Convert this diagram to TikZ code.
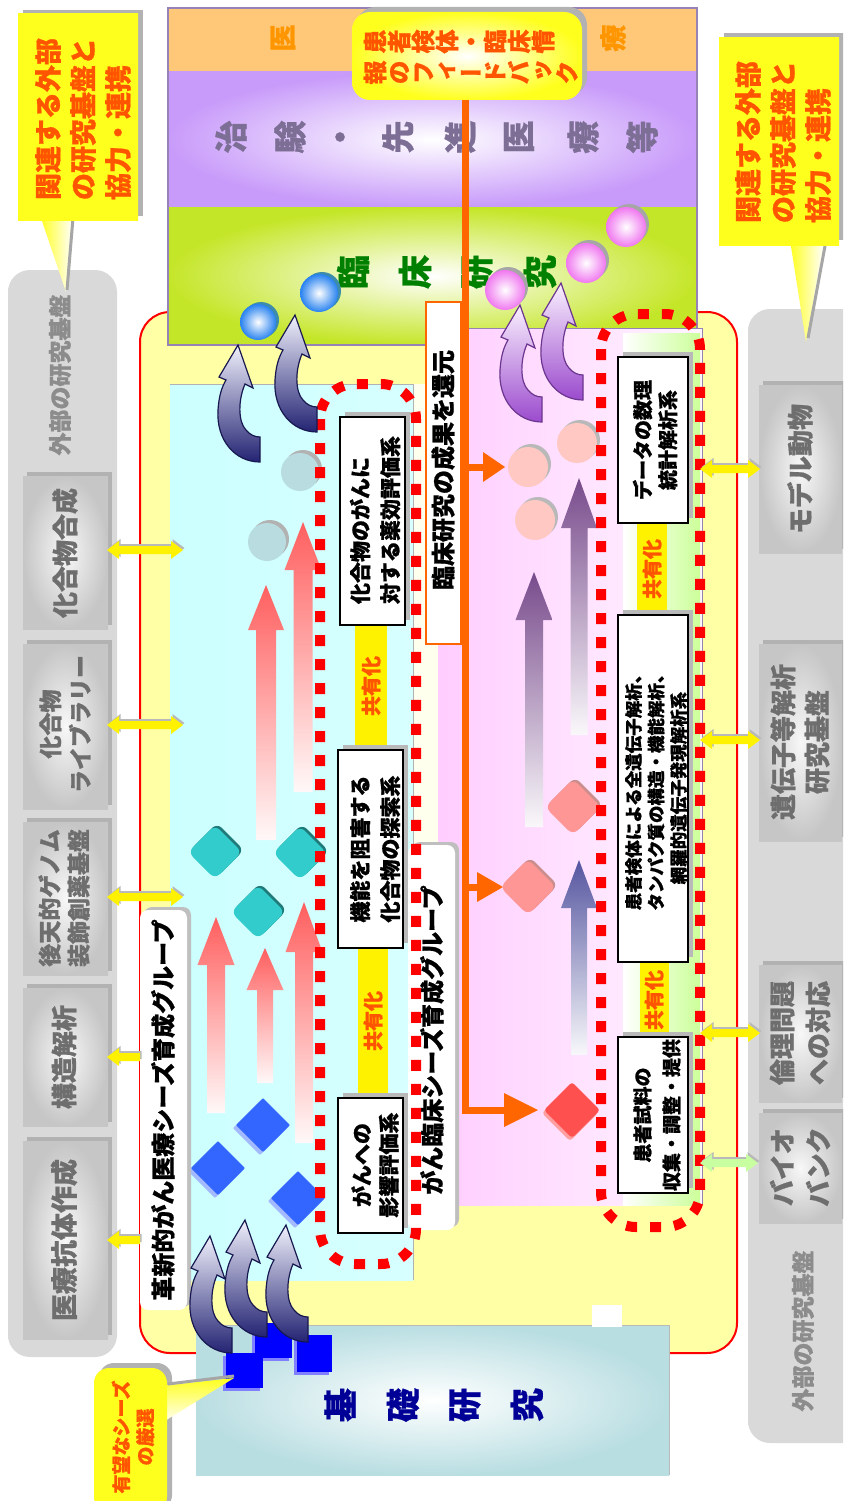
\documentclass[tikz,border=0pt]{standalone}
\usepackage{fontspec}
\setmainfont{Noto Sans CJK JP}[BoldFeatures={FakeBold=0.8}]
\newfontfamily\tatefont{Noto Sans CJK JP}[RawFeature=+vert,BoldFeatures={FakeBold=0.8}]
\definecolor{orred}{RGB}{255,85,0}
\definecolor{orline}{RGB}{255,102,0}
\definecolor{callyel}{RGB}{255,255,30}
\definecolor{mainyel}{RGB}{255,255,165}
\definecolor{gtext}{RGB}{110,110,110}
\definecolor{glab}{RGB}{140,140,140}
\definecolor{bandor}{RGB}{255,200,120}
\definecolor{bandpu}{RGB}{200,155,250}
\definecolor{bandgr}{RGB}{196,230,40}
\definecolor{ptext}{RGB}{125,110,150}
\definecolor{otext}{RGB}{255,150,0}
\definecolor{gtxt}{RGB}{0,128,0}
\definecolor{navytxt}{RGB}{0,0,150}
\definecolor{cyL}{RGB}{204,255,255}
\definecolor{cyM}{RGB}{240,255,255}
\definecolor{cyR}{RGB}{215,255,255}
\definecolor{pkL}{RGB}{255,205,255}
\definecolor{pkR}{RGB}{255,245,255}
\definecolor{lgreen}{RGB}{204,255,153}
\definecolor{teal1}{RGB}{185,222,226}
\definecolor{pinkarr}{RGB}{255,95,95}
\definecolor{purarr}{RGB}{120,75,140}
\definecolor{bluarr}{RGB}{85,85,160}
\definecolor{ballblue}{RGB}{40,130,240}
\definecolor{ballshadow}{RGB}{60,140,170}
\definecolor{ballpink}{RGB}{240,120,240}
\definecolor{tealc}{RGB}{184,220,224}
\definecolor{salmon}{RGB}{255,200,195}
\definecolor{tealdia}{RGB}{51,204,204}
\definecolor{bluedia}{RGB}{51,102,255}
\definecolor{salmdia}{RGB}{255,150,150}
\definecolor{reddia}{RGB}{255,80,80}
\definecolor{navyA}{RGB}{35,35,115}
\definecolor{navyM}{RGB}{130,130,185}
\definecolor{navyL}{RGB}{240,240,252}
\definecolor{purA}{RGB}{155,75,205}
\definecolor{purM}{RGB}{205,160,235}
\definecolor{purL}{RGB}{250,240,255}
\definecolor{panelbd}{RGB}{150,130,180}
\definecolor{arrgreen}{RGB}{200,255,160}
\definecolor{creamy}{RGB}{255,255,238}

\def\tateloop#1{\ifx#1\relax\else\hbox{\vrule height .88em depth .12em width 0pt\hbox to 1em{\hss#1\hss}}\expandafter\tateloop\fi}
\newcommand\tatecol[1]{\vtop{\offinterlineskip\tateloop#1\relax}}
\newcommand\fs[2]{\fontsize{#1}{#2}\selectfont\bfseries}

\newcommand\dblpath[3]{(#1,#3) -- ({#1+12},{#3-9}) -- ({#1+12},{#3-4}) -- ({#2-12},{#3-4}) -- ({#2-12},{#3-9}) -- (#2,#3) -- ({#2-12},{#3+9}) -- ({#2-12},{#3+4}) -- ({#1+12},{#3+4}) -- ({#1+12},{#3+9}) -- cycle}
\newcommand\dblarr[4]{\fill[gray!55,shift={(1.5,-2)}] \dblpath{#1}{#2}{#3}; \fill[#4] \dblpath{#1}{#2}{#3};}
\newcommand\lftpath[3]{(#1,#3) -- ({#1+12},{#3-9}) -- ({#1+12},{#3-4}) -- (#2,{#3-4}) -- (#2,{#3+4}) -- ({#1+12},{#3+4}) -- ({#1+12},{#3+9}) -- cycle}
\newcommand\lftarr[3]{\fill[gray!55,shift={(1.5,-2)}] \lftpath{#1}{#2}{#3}; \fill[yellow] \lftpath{#1}{#2}{#3};}
\newcommand\uparr[7]{\shade[top color=#7, middle color=#7!45, bottom color=#7!4] ({#1-#5},#4) -- ({#1-#5},#3) -- ({#1-#6},#3) -- (#1,#2) -- ({#1+#6},#3) -- ({#1+#5},#3) -- ({#1+#5},#4) -- cycle;}
\newcommand\diam[5]{\fill[#4, rounded corners=#5] (#1,{#2-#3}) -- ({#1+#3},#2) -- (#1,{#2+#3}) -- ({#1-#3},#2) -- cycle;}
\newcommand\gbox[4]{\fill[gray!60] ({#1+4},{#2-4}) rectangle ({#3+4},{#4-4}); \shade[inner color=gray!6,outer color=gray!45] (#1,#2) rectangle (#3,#4);}
\newcommand\wbox[4]{\fill[gray!55] ({#1+5},{#2-5}) rectangle ({#3+5},{#4-5}); \draw[fill=white,line width=2] (#1,#2) rectangle (#3,#4);}
\newcommand\curly[5]{\begin{scope}[shift={(#1,#2)}]
\shadedraw[top color=#3, middle color=#4, bottom color=#5, draw=#5!70!black, line width=1.2] (0,12) .. controls (-25,12) and (-44,-10) .. (-42,-40) .. controls (-41,-55) and (-38,-63) .. (-34,-70) -- (-41,-73) -- (-22,-105) -- (-7,-62) -- (-15,-66) .. controls (-22,-50) and (-22,-28) .. (-14,-20) .. controls (-10,-15) and (-5,-13) .. (0,-13) -- cycle;
\end{scope}}

\begin{document}
\begin{tikzpicture}[x=1pt,y=-1pt,
  tx/.style={rotate=90,inner sep=0pt}]
\useasboundingbox (0,0) rectangle (843,1501);
\clip (0,0) rectangle (843,1501);
\fill[white] (0,0) rectangle (843,1501);

% ---------- outer gray panels ----------
\shade[left color=gray!30, middle color=gray!6, right color=gray!30, rounded corners=22] (8,270) rectangle (117,1357);
\shade[left color=gray!30, middle color=gray!6, right color=gray!30, rounded corners=22] (748,309) rectangle (870,1443);
\gbox{23}{476}{108}{629}
\gbox{23}{644}{108}{809}
\gbox{23}{822}{108}{975}
\gbox{23}{988}{108}{1126}
\gbox{23}{1141}{108}{1339}
\gbox{759}{385}{842}{553}
\gbox{759}{644}{842}{841}
\gbox{759}{965}{842}{1102}
\gbox{759}{1113}{842}{1223}
\node[tx,text=glab,font=\fs{23}{23}] (labL) at (60,375) {外部の研究基盤};
\node[tx,text=glab,font=\fs{23}{23}] (labR) at (803,1331) {外部の研究基盤};
\node[tx,text=gtext,font=\fs{26}{26}] (g1) at (65,553) {化合物合成};
\node[tx,text=gtext,font=\fs{23}{30},align=center] (g2) at (65,724) {化合物\\ライブラリー};
\node[tx,text=gtext,font=\fs{23}{29},align=center] (g3) at (64,898) {後天的ゲノム\\装飾創薬基盤};
\node[tx,text=gtext,font=\fs{26}{26}] (g4) at (64,1057) {構造解析};
\node[tx,text=gtext,font=\fs{27}{27}] (g5) at (64,1240) {医療抗体作成};
\node[tx,text=gtext,font=\fs{26}{26}] (g6) at (800,469) {モデル動物};
\node[tx,text=gtext,font=\fs{26}{34},align=center] (g7) at (800,742) {遺伝子等解析\\研究基盤};
\node[tx,text=gtext,font=\fs{26}{36},align=center] (g8) at (800,1033) {倫理問題\\への対応};
\node[tx,text=gtext,font=\fs{26}{36},align=center] (g9) at (800,1167) {バイオ\\バンク};

% ---------- main yellow frame ----------
\draw[red, line width=2, fill=mainyel, rounded corners=30] (140,312) rectangle (737,1353);

% ---------- top bands ----------
\shade[top color=bandor, middle color=bandor!35, bottom color=bandor] (168,8) rectangle (697,72);
\shade[inner color=white, outer color=bandpu] (168,72) rectangle (697,207);
\shade[inner color=white, outer color=bandgr] (168,207) rectangle (697,345);
\draw[panelbd, line width=1.2] (168,8) rectangle (697,345);
\node[tx,text=otext,font=\fs{27}{27}] (i1) at (283,38) {医};
\node[tx,text=otext,font=\fs{27}{27}] (i2) at (613,38) {療};
\foreach \c/\xx [count=\i] in {治/231,験/290,・/344,先/398,進/460,医/519,療/583,等/642}
  \node[tx,text=ptext,font=\fs{33}{33}] (ch\i) at (\xx,137) {\c};
\foreach \c/\xx [count=\i] in {臨/353,床/415,研/477,究/540}
  \node[tx,text=gtxt,font=\fs{34}{34}] (rs\i) at (\xx,272) {\c};

% ---------- inner panels ----------
\fill[creamy] (413,384) rectangle (440,1230);
\shade[left color=cyL, middle color=cyM, right color=cyR] (170,384) rectangle (413,1280);
\draw[gray!60] (170,384) -- (413,384) -- (413,1280);
\shade[left color=pkL, right color=pkR] (438,328) rectangle (702,1205);
\draw[panelbd] (438,328) -- (702,328) -- (702,1205);
\shade[left color=white, right color=lgreen] (623,333) rectangle (700,1205);

% ---------- basic research panel ----------
\shade[inner color=white, outer color=teal1] (196,1325) rectangle (669,1475);
\draw[gray!55] (196,1325) -- (669,1325) -- (669,1475);
\fill[white] (592,1305) rectangle (622,1327);
\foreach \c/\xx [count=\i] in {基/340,礎/403,研/465,究/527}
  \node[tx,text=navytxt,font=\fs{34}{34}] (kk\i) at (\xx,1405) {\c};

% ---------- straight up arrows ----------
\uparr{266}{585}{630}{840}{10}{18}{pinkarr}
\uparr{303}{522}{570}{792}{9.5}{18.5}{pinkarr}
\uparr{216}{917}{965}{1113}{9}{18.5}{pinkarr}
\uparr{265}{948}{990}{1083}{8}{18.5}{pinkarr}
\uparr{304}{902}{952}{1143}{9}{18.5}{pinkarr}
\uparr{534}{572}{620}{827}{9}{18.5}{purarr}
\uparr{579}{478}{528}{735}{8.5}{18}{purarr}
\uparr{579}{860}{908}{1055}{8}{18}{bluarr}

% ---------- circles ----------
\foreach \xx/\yy in {300/472,267/542}{
  \fill[gray!60] ({\xx+3},{\yy-3}) circle[radius=19pt];
  \fill[tealc] (\xx,\yy) circle[radius=19pt];}
\foreach \xx/\yy in {528/467,577/443,535/520}{
  \fill[gray!55] ({\xx+3},{\yy-3}) circle[radius=20pt];
  \fill[salmon] (\xx,\yy) circle[radius=20pt];}
\fill[ballshadow] (261,320) circle[radius=18pt];
\shade[inner color=white, outer color=ballblue] (258,322) circle[radius=18pt];
\fill[ballshadow] (322,291) circle[radius=19pt];
\shade[inner color=white, outer color=ballblue] (319,293) circle[radius=19pt];
\foreach \xx/\yy in {505/290,586/263,626/227}{
  \fill[gray!70] ({\xx+3},{\yy-3}) circle[radius=20pt];
  \shade[inner color=white, outer color=ballpink] (\xx,\yy) circle[radius=20pt];}

% ---------- diamonds ----------
\foreach \xx/\yy in {215/852,300/853,258/912}{
  \diam{\xx+2}{\yy-2}{27}{tealdia!60!black}{7}
  \diam{\xx}{\yy}{27}{tealdia}{7}}
\foreach \xx/\yy in {263/1125,218/1168,298/1198}{
  \diam{\xx-3}{\yy+3}{27}{bluedia!45}{1}
  \diam{\xx}{\yy}{27}{bluedia}{1}}
\foreach \xx/\yy in {573/807,528/887}{
  \diam{\xx+2}{\yy-2}{28}{salmdia!60!gray}{7}
  \diam{\xx}{\yy}{28}{salmdia}{7}}
\diam{570}{1113}{28}{reddia!55}{3}
\diam{572}{1110}{28}{reddia}{3}

% ---------- shared strips ----------
\fill[yellow] (355,625) rectangle (387,750);
\fill[yellow] (358,948) rectangle (388,1098);
\fill[yellow] (637,523) rectangle (667,615);
\fill[yellow] (640,962) rectangle (669,1037);
\node[tx,text=orred,font=\fs{20}{20}] (sh1) at (371,686) {共有化};
\node[tx,text=orred,font=\fs{20}{20}] (sh2) at (373,1021) {共有化};
\node[tx,text=orred,font=\fs{20}{20}] (sh3) at (652,569) {共有化};
\node[tx,text=orred,font=\fs{20}{20}] (sh4) at (654,1000) {共有化};

% ---------- white boxes ----------
\wbox{340}{417}{405}{625}
\wbox{338}{750}{403}{948}
\wbox{338}{1098}{403}{1233}
\wbox{618}{357}{688}{523}
\wbox{618}{615}{688}{962}
\wbox{618}{1037}{688}{1193}
\node[tx,font=\fs{21}{30},align=left] (b1) at (375,520) {化合物のがんに\\対する薬効評価系};
\node[tx,font=\fs{21}{30},align=center] (b2) at (375,849) {機能を阻害する\\化合物の探索系};
\node[tx,font=\fs{21}{27},align=center] (b3) at (375,1165) {がんへの\\影響評価系};
\node[tx,font=\fs{20}{25},align=center] (b4) at (655,440) {データの数理\\統計解析系};
\node[tx,font=\fs{17.5}{22.5},align=center] (b5) at (656,788) {患者検体による全遺伝子解析、\\タンパク質の構造・機能解析、\\網羅的遺伝子発現解析系};
\node[tx,font=\fs{19}{29},align=center] (b6) at (657,1115) {患者試料の\\収集・調整・提供};

% ---------- group labels ----------
\fill[gray!50,rounded corners=8] (412,842) rectangle (459,1227);
\fill[white,rounded corners=8] (408,845) rectangle (455,1230);
\node[tx,font=\fs{24}{24}] (grp1) at (432,1040) {がん臨床シーズ育成グループ};
\fill[gray!50,rounded corners=8] (144,907) rectangle (191,1307);
\fill[white,rounded corners=8] (140,910) rectangle (187,1310);
\node[tx,font=\fs{24}{24}] (grp2) at (163,1110) {革新的がん医療シーズ育成グループ};

% ---------- red dotted frames ----------
\draw[red, line width=10, dash pattern=on 11pt off 13pt, rounded corners=35] (320,384) rectangle (416,1264);
\draw[red, line width=10, dash pattern=on 11pt off 13pt, rounded corners=35] (601,314) rectangle (700,1227);

% ---------- orange feedback line ----------
\draw[orline, line width=1.5, fill=white] (426,302) rectangle (461,644);
\node[tx,font=\fs{24}{24}] (ret) at (443,470) {臨床研究の成果を還元};
\coordinate (fbbot) at (465,100);
\coordinate (turn) at (465,1110);
\coordinate (endA) at (506,1110);
\draw[orline, line width=7] (fbbot) -- (turn) -- (endA);
\fill[orline] (465,463.5) rectangle (484,470.5);
\fill[orline] (483,452) -- (505,467) -- (483,482) -- cycle;
\fill[orline] (465,883.5) rectangle (478,890.5);
\fill[orline] (477,872) -- (503,887) -- (477,902) -- cycle;
\fill[orline] (504,1093) -- (538,1110) -- (504,1127) -- cycle;

% ---------- double arrows ----------
\dblarr{107}{183}{550}{yellow}
\dblarr{107}{183}{725}{yellow}
\dblarr{107}{183}{897}{yellow}
\lftarr{107}{140}{1057}
\lftarr{107}{140}{1240}
\dblarr{700}{760}{469}{yellow}
\dblarr{700}{760}{740}{yellow}
\dblarr{700}{760}{1033}{yellow}
\dblarr{700}{758}{1163}{arrgreen}

% ---------- blue squares ----------
\fill[blue!50] (252,1326) rectangle (289,1361);
\fill[blue] (255,1323) rectangle (292,1358);
\fill[blue!50] (294,1338) rectangle (329,1375);
\fill[blue] (297,1335) rectangle (332,1372);
\fill[blue!50] (223,1356) rectangle (260,1391);
\fill[blue] (226,1353) rectangle (263,1388);

% ---------- curved arrows ----------
\curly{260}{450}{navyL}{navyM}{navyA}
\curly{317}{420}{navyL}{navyM}{navyA}
\curly{232}{1341}{navyL}{navyM}{navyA}
\curly{267}{1325}{navyL}{navyM}{navyA}
\curly{308}{1330}{navyL}{navyM}{navyA}
\curly{542}{410}{purL}{purM}{purA}
\curly{583}{388}{purL}{purM}{purA}

% ---------- callouts ----------
\fill[gray!60] (23,10) rectangle (143,216);
\shade[left color=callyel, right color=white] (40,215) -- (73,215) -- (66,292) -- cycle;
\draw[gray!70, line width=3] (73,218) -- (67,290);
\shade[left color=callyel, middle color=callyel!25, right color=callyel] (18,14) rectangle (138,220);
\node[tx,text=orred,font=\fs{27}{35},align=left] (cTL) at (83,119) {関連する外部\\の研究基盤と\\協力・連携};
\fill[gray!60] (724,33) rectangle (844,240);
\shade[left color=callyel, right color=white] (790,240) -- (824,240) -- (806,342) -- cycle;
\draw[gray!70, line width=3] (825,246) -- (808,338);
\shade[left color=callyel, middle color=callyel!25, right color=callyel] (719,38) rectangle (839,245);
\node[tx,text=orred,font=\fs{27}{35},align=left] (cTR) at (783,142) {関連する外部\\の研究基盤と\\協力・連携};
\fill[gray!60, rounded corners=15] (99,1363) rectangle (172,1510);
\shade[top color=callyel, bottom color=white] (160,1386) -- (160,1424) -- (234,1378) -- cycle;
\draw[gray!70, line width=3] (168,1384) -- (234,1376);
\shade[left color=callyel, middle color=callyel!25, right color=callyel, rounded corners=15] (94,1368) rectangle (167,1512);
\node[tx,text=orred,font=\fs{19}{24},align=center] (cBL) at (133,1437) {有望なシーズ\\の厳選};
\fill[gray!60, rounded corners=18] (357,7) rectangle (587,95);
\shade[inner color=white, outer color=callyel, rounded corners=18] (352,12) rectangle (582,100);
\node[tx,text=orred] (fb) at (471,57) {\tatefont\fs{24}{24}\hbox{\tatecol{報のフィードバック}\hskip7pt\tatecol{患者検体・臨床情}}};
\end{tikzpicture}
\end{document}
